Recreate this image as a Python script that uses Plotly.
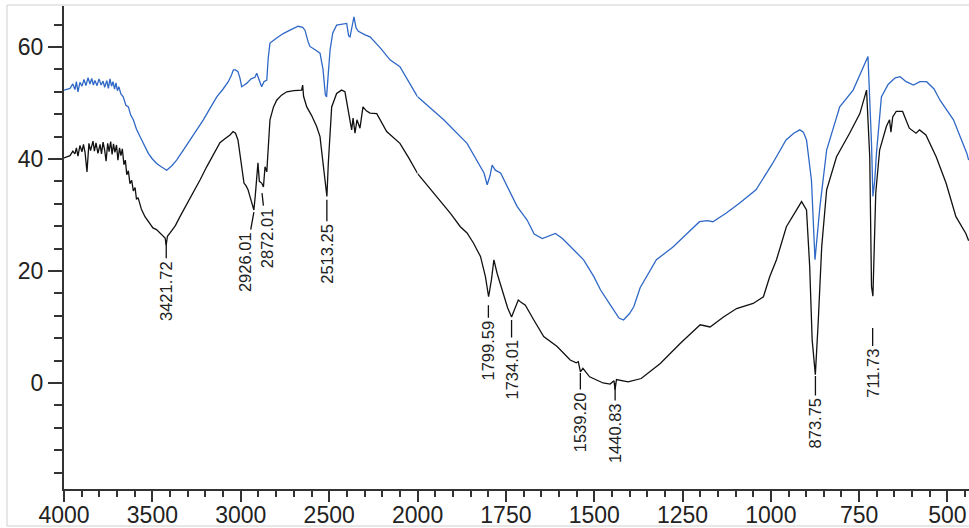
import plotly.graph_objects as go

# ---------------- data (wavenumber cm-1, %T) ----------------
black_x = [4000, 3985, 3966, 3950, 3938, 3930, 3921, 3910, 3898, 3890, 3881, 3870, 3859, 3850, 3836, 3828,
           3819, 3808, 3796, 3788, 3779, 3770, 3762, 3753, 3745, 3736, 3728, 3720, 3712, 3703, 3695, 3686,
           3678, 3670, 3661, 3653, 3645, 3636, 3627, 3617, 3608, 3598, 3590, 3581, 3562, 3542, 3520, 3497,
           3477, 3457, 3440, 3428, 3422, 3415, 3400, 3370, 3344, 3310, 3270, 3230, 3193, 3155, 3118, 3090,
           3061, 3044, 3030, 3016, 2995, 2982, 2970, 2959, 2950, 2942, 2933, 2926, 2918, 2910, 2903, 2895,
           2882, 2872, 2863, 2853, 2845, 2835, 2815, 2797, 2770, 2740, 2700, 2656, 2650, 2645, 2627, 2600,
           2571, 2552, 2535, 2520, 2513, 2505, 2486, 2458, 2430, 2411, 2394, 2380, 2373, 2365, 2354, 2343,
           2326, 2309, 2290, 2269, 2231, 2175, 2100, 2050, 2000, 1955, 1907, 1879, 1860, 1842, 1822, 1808,
           1799, 1791, 1784, 1775, 1765, 1756, 1745, 1734, 1723, 1715, 1709, 1695, 1671, 1643, 1605, 1568,
           1551, 1545, 1539, 1532, 1513, 1475, 1455, 1444, 1441, 1437, 1404, 1367, 1313, 1256, 1200, 1172,
           1134, 1097, 1050, 1021, 1003, 984, 956, 932, 913, 899, 890, 883, 874, 866, 856, 842,
           814, 777, 748, 729, 720, 715, 711, 703, 692, 673, 664, 660, 655, 645, 627, 608,
           589, 579, 561, 532, 504, 476, 448, 440]
black_y = [40.2, 40.4, 40.6, 41.4, 40.9, 42.0, 40.5, 42.4, 41.3, 42.6, 41.2, 37.7, 42.8, 41.5, 43.2, 41.4,
           42.9, 41.0, 42.6, 40.9, 43.0, 41.6, 39.6, 42.8, 41.3, 43.1, 40.8, 42.7, 41.2, 42.5, 39.8, 42.0,
           40.6, 41.8, 39.0, 39.8, 37.2, 37.9, 35.6, 36.2, 34.3, 34.9, 32.8, 33.1, 31.0, 29.7, 28.8, 27.7,
           27.4, 26.8, 26.3, 25.9, 24.6, 26.2, 26.8, 28.1, 29.7, 31.6, 33.9, 36.3, 38.6, 40.8, 42.9, 43.6,
           44.3, 44.9, 44.6, 43.4, 38.6, 35.7, 35.2, 34.5, 33.5, 32.7, 32.0, 30.9, 33.5, 36.2, 39.3, 36.0,
           35.7, 35.0, 38.6, 37.7, 43.0, 47.0, 49.3, 50.5, 51.4, 52.0, 52.2, 52.3, 53.2, 51.2, 49.3, 47.8,
           45.8, 44.0, 39.3, 34.5, 33.3, 39.3, 49.3, 51.7, 52.3, 52.0, 48.8, 46.0, 45.2, 47.3, 44.6, 47.0,
           45.5, 49.3, 48.6, 48.2, 48.1, 44.9, 42.8, 40.2, 37.4, 33.9, 30.3, 27.9, 26.8, 25.0, 22.6, 19.0,
           15.4, 18.4, 22.0, 19.6, 17.5, 15.4, 13.4, 11.8, 13.6, 14.8, 14.5, 13.9, 11.25, 8.3, 6.5, 4.1,
           3.6, 3.8, 2.0, 2.6, 1.1, 0.0, -0.2, 0.4, -1.2, 0.6, 0.2, 0.8, 3.5, 7.1, 10.4, 10.0,
           11.8, 13.3, 14.2, 15.4, 19.0, 22.0, 27.9, 30.3, 32.4, 30.9, 20.8, 7.7, 1.5, 10.7, 24.3, 34.5,
           40.4, 44.6, 48.1, 52.3, 40.4, 17.2, 15.5, 33.9, 41.6, 45.8, 47.0, 44.8, 47.5, 48.5, 48.5, 45.5,
           44.6, 45.2, 44.3, 40.4, 35.7, 29.7, 26.7, 25.4]

blue_x = [4000, 3985, 3966, 3950, 3938, 3930, 3921, 3910, 3898, 3887, 3876, 3864, 3853, 3843, 3834, 3825,
          3813, 3802, 3790, 3779, 3770, 3758, 3749, 3740, 3731, 3723, 3714, 3706, 3698, 3690, 3678, 3665,
          3650, 3636, 3622, 3608, 3590, 3570, 3545, 3523, 3500, 3476, 3450, 3419, 3390, 3363, 3325, 3287,
          3250, 3212, 3175, 3136, 3100, 3071, 3055, 3042, 3030, 3016, 3005, 2995, 2980, 2967, 2942, 2920,
          2910, 2897, 2882, 2869, 2853, 2845, 2835, 2797, 2760, 2722, 2675, 2650, 2637, 2620, 2609, 2580,
          2552, 2535, 2522, 2515, 2505, 2495, 2480, 2458, 2401, 2390, 2382, 2371, 2360, 2348, 2335, 2300,
          2269, 2210, 2156, 2100, 2050, 2000, 1926, 1860, 1822, 1812, 1803, 1795, 1789, 1780, 1765, 1737,
          1718, 1690, 1670, 1647, 1630, 1610, 1590, 1567, 1530, 1501, 1482, 1460, 1445, 1430, 1417, 1400,
          1388, 1370, 1324, 1277, 1240, 1202, 1180, 1164, 1127, 1089, 1042, 995, 957, 935, 918, 908,
          899, 893, 885, 875, 868, 861, 842, 805, 767, 740, 725, 715, 711, 706, 701, 687,
          668, 648, 634, 617, 596, 578, 559, 538, 521, 483, 445, 440]
blue_y = [52.3, 52.4, 52.6, 53.4, 52.4, 53.8, 52.0, 53.7, 53.0, 54.2, 53.1, 54.5, 53.4, 54.4, 53.2, 54.0,
          53.1, 54.3, 53.2, 53.9, 52.8, 54.0, 52.6, 54.3, 53.0, 53.8, 52.5, 53.6, 52.2, 52.9, 51.6, 51.1,
          49.6, 49.3, 47.8, 47.0, 45.3, 44.0, 42.4, 41.0, 40.0, 39.2, 38.6, 38.0, 38.8, 39.8, 41.6, 43.4,
          45.2, 47.0, 49.0, 51.1, 52.5, 53.8, 54.8, 55.9, 55.9, 55.6, 54.5, 52.9, 53.2, 53.5, 54.3, 54.6,
          55.3, 54.1, 52.9, 53.8, 54.1, 58.0, 60.7, 61.6, 62.4, 63.0, 63.7, 63.5, 63.0, 61.0, 60.1, 59.5,
          58.9, 56.0, 51.5, 51.1, 55.0, 59.5, 62.5, 63.9, 64.2, 62.0, 61.8, 63.9, 65.4, 63.4, 62.8, 62.2,
          61.8, 59.8, 57.7, 56.5, 53.8, 51.1, 47.0, 42.8, 38.5, 37.5, 35.4, 37.0, 38.9, 38.0, 37.5, 33.9,
          31.5, 29.1, 26.6, 25.8, 26.2, 26.7, 25.8, 24.3, 22.0, 19.0, 16.6, 14.5, 13.0, 11.6, 11.25, 12.4,
          13.6, 17.0, 22.0, 24.3, 26.5, 28.8, 29.0, 28.8, 30.3, 32.1, 34.5, 39.2, 43.4, 44.6, 45.2, 44.8,
          43.4, 40.0, 36.2, 22.0, 27.5, 31.5, 41.6, 49.3, 52.3, 56.2, 58.3, 42.8, 33.3, 36.0, 41.0, 51.1,
          53.3, 54.5, 54.7, 53.8, 53.2, 53.8, 53.8, 52.5, 50.5, 47.0, 41.0, 39.8]

peak_labels = ["3421.72", "2926.01", "2872.01", "2513.25", "1799.59", "1734.01",
               "1539.20", "1440.83", "873.75", "711.73"]
peak_x = [3421.72, 2926.01, 2880.0, 2513.25, 1799.59, 1734.01, 1539.20, 1440.83, 873.75, 711.73]
peak_y = [25.4, 30.5, 33.9, 32.7, 13.9, 11.25, 1.8, 0.0, 1.25, 9.8]
label_dx = [0, -9, 5, 0, 0, 0, 0, 0, 0, 0]
label_dy = [50, 50, 45, 54, 45, 50, 49, 50, 47, 45]

x_ticks_hi = [4000, 3500, 3000, 2500, 2000]
x_ticks_lo = [1750, 1500, 1250, 1000, 750, 500]

BREAK = 2000
X_MIN = 439

# ---------------- figure ----------------
def split(xs, ys, hi):
    px, py = [], []
    for a, b in zip(xs, ys):
        if (hi and a >= BREAK) or ((not hi) and a <= BREAK):
            px.append(a)
            py.append(b)
    return px, py

BLUE = "#2f68c6"
BLACK = "#111111"

fig = go.Figure()
for xs, ys, col, w in [(blue_x, blue_y, BLUE, 1.3), (black_x, black_y, BLACK, 1.3)]:
    hx, hy = split(xs, ys, True)
    lx, ly = split(xs, ys, False)
    fig.add_trace(go.Scatter(x=hx, y=hy, mode="lines", line=dict(color=col, width=w),
                             xaxis="x", yaxis="y", showlegend=False, hoverinfo="skip"))
    fig.add_trace(go.Scatter(x=lx, y=ly, mode="lines", line=dict(color=col, width=w),
                             xaxis="x2", yaxis="y", showlegend=False, hoverinfo="skip"))

W, H = 969, 528
ML, MR, MT, MB = 64, 0, 6, 39
plot_w = W - ML - MR
D = 353.6 / plot_w

tickfont = dict(family="Liberation Sans, Arial, sans-serif", size=23, color="#222222")
axis_common = dict(showline=True, linewidth=2, linecolor="#333333", showgrid=False, zeroline=False,
                   ticks="outside", tickcolor="#333333", tickwidth=2, tickfont=tickfont,
                   automargin=False)

fig.update_layout(
    width=W, height=H,
    margin=dict(l=ML, r=MR, t=MT, b=MB, autoexpand=False),
    paper_bgcolor="white", plot_bgcolor="white",
    xaxis=dict(domain=[0, D], range=[4000, BREAK], tickmode="array", tickvals=x_ticks_hi,
               ticklen=11, anchor="y", ticklabelstandoff=-7,
               minor=dict(ticks="outside", ticklen=6, tickmode="linear", tick0=0, dtick=100,
                          tickcolor="#333333", tickwidth=1.5),
               **axis_common),
    xaxis2=dict(domain=[D, 1], range=[BREAK, X_MIN], tickmode="array", tickvals=x_ticks_lo,
                ticklen=11, anchor="y", ticklabelstandoff=-7,
                minor=dict(ticks="outside", ticklen=6, tickmode="linear", tick0=0, dtick=50,
                           tickcolor="#333333", tickwidth=1.5),
                **axis_common),
    yaxis=dict(domain=[0, 1], range=[-18.93, 67.32], tickmode="linear", tick0=0, dtick=20,
               ticklen=14, anchor="x",
               minor=dict(ticks="outside", ticklen=8, tickmode="linear", tick0=0, dtick=4,
                          tickcolor="#333333", tickwidth=1.5),
               **axis_common),
)

plot_h = H - MT - MB
fig.add_shape(type="rect", xref="paper", yref="paper",
              x0=(7 - ML) / plot_w, x1=(980 - ML) / plot_w,
              y0=((H - MB) - 526) / plot_h, y1=((H - MB) - 5) / plot_h,
              line=dict(color="#cfcfcf", width=1), fillcolor="rgba(0,0,0,0)", layer="below")

for lab, px_, py_, dx, dy in zip(peak_labels, peak_x, peak_y, label_dx, label_dy):
    fig.add_annotation(x=px_, y=py_, xref="x" if px_ >= BREAK else "x2", yref="y",
                       text=lab, textangle=-90, showarrow=True, arrowhead=0, arrowwidth=1.3,
                       arrowcolor="#111111", ax=dx, ay=dy, borderpad=2,
                       font=dict(family="Liberation Sans, Arial, sans-serif", size=16.5, color="#222222"))

fig.write_html("out.html")
